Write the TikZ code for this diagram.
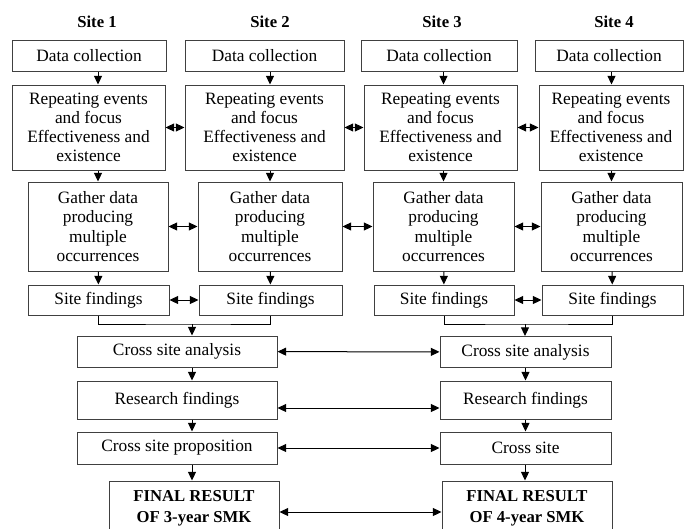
\documentclass[tikz,border=0pt]{standalone}
\usepackage{fontspec}
\setmainfont{Liberation Serif}
\usetikzlibrary{arrows.meta}

\begin{document}
\begin{tikzpicture}[x=0.75pt,y=-0.75pt,->,>={Triangle[length=6.5pt,width=6pt]},line width=0.75pt,
    every node/.style={font=\fontsize{13}{14.4}\selectfont},
    box/.style={draw=black!75,align=center,inner sep=1pt},
    head/.style={font=\fontsize{12.5}{15.5}\selectfont\bfseries}]
  \useasboundingbox (0,0) rectangle (684,528);
  % site headings
  \node[head] (S1) at (97,22) {Site 1};
  \node[head] (S2) at (270,22) {Site 2};
  \node[head] (S3) at (442,22) {Site 3};
  \node[head] (S4) at (614,22) {Site 4};
  % data collection
  \node[box,minimum width=115.5pt,minimum height=22.5pt] (D1) at (89,56) {Data collection};
  \node[box,minimum width=119.25pt,minimum height=22.5pt] (D2) at (264.5,56) {Data collection};
  \node[box,minimum width=117pt,minimum height=22.5pt] (D3) at (439,56) {Data collection};
  \node[box,minimum width=111pt,minimum height=22.5pt] (D4) at (609,56) {Data collection};
  % repeating events
  \node[box,minimum width=114.75pt,minimum height=63.75pt] (R1) at (88.5,127.5) {Repeating events\\ and focus\\ Effectiveness and\\ existence};
  \node[box,minimum width=119.25pt,minimum height=63.75pt] (R2) at (264.5,127.5) {Repeating events\\ and focus\\ Effectiveness and\\ existence};
  \node[box,minimum width=114.75pt,minimum height=63.75pt] (R3) at (440.5,127.5) {Repeating events\\ and focus\\ Effectiveness and\\ existence};
  \node[box,minimum width=108pt,minimum height=63.75pt] (R4) at (611,127.5) {Repeating events\\ and focus\\ Effectiveness and\\ existence};
  % gather data
  \node[box,minimum width=105pt,minimum height=66.75pt] (G1) at (98,226.5) {Gather data\\ producing\\ multiple\\ occurrences};
  \node[box,minimum width=108pt,minimum height=66.75pt] (G2) at (270,226.5) {Gather data\\ producing\\ multiple\\ occurrences};
  \node[box,minimum width=105.75pt,minimum height=66.75pt] (G3) at (443.5,226.5) {Gather data\\ producing\\ multiple\\ occurrences};
  \node[box,minimum width=105.75pt,minimum height=66.75pt] (G4) at (611.5,226.5) {Gather data\\ producing\\ multiple\\ occurrences};
  % site findings
  \node[box,minimum width=105.75pt,minimum height=22.5pt] (F1) at (98.5,300) {Site findings};
  \node[box,minimum width=107.25pt,minimum height=22.5pt] (F2) at (270.5,300) {Site findings};
  \node[box,minimum width=105pt,minimum height=22.5pt] (F3) at (444,300) {Site findings};
  \node[box,minimum width=105.75pt,minimum height=22.5pt] (F4) at (612.5,300) {Site findings};
  \coordinate (J1) at (192,324);
  \coordinate (J2) at (525,324);
  % cross site part
  \node[box,minimum width=150pt,minimum height=23.25pt] (CA1) at (177,351.5) {Cross site analysis};
  \node[box,minimum width=128.25pt,minimum height=23.25pt] (CA2) at (525.5,352) {Cross site analysis};
  \node[box,minimum width=150pt,minimum height=28.5pt] (RF1) at (177,400) {Research findings};
  \node[box,minimum width=128.25pt,minimum height=28.5pt] (RF2) at (525.5,400) {Research findings};
  \node[box,minimum width=150pt,minimum height=24pt] (CP1) at (177,448) {Cross site proposition};
  \node[box,minimum width=128.25pt,minimum height=24pt] (CP2) at (525.5,448) {Cross site};
  \node[box,head,minimum width=127.5pt,minimum height=40.5pt] (FR1) at (194,508) {FINAL RESULT\\ OF 3-year SMK};
  \node[box,head,minimum width=127.5pt,minimum height=40.5pt] (FR2) at (527,508) {FINAL RESULT\\ OF 4-year SMK};

  \draw (D1.south -| G1) -- (R1.north -| G1);
  \draw (D2.south -| G2) -- (R2.north -| G2);
  \draw (D3.south -| G3) -- (R3.north -| G3);
  \draw (D4.south -| G4) -- (R4.north -| G4);
  \draw (R1.south -| G1) -- (G1);
  \draw (R2.south -| G2) -- (G2);
  \draw (R3.south -| G3) -- (G3);
  \draw (R4.south -| G4) -- (G4);
  \draw (G1) -- (F1);
  \draw (G2) -- (F2);
  \draw (G3) -- (F3);
  \draw (G4) -- (F4);
  \draw[<->] (R1) -- (R2);
  \draw[<->] (R2) -- (R3);
  \draw[<->] (R3) -- (R4);
  \draw[<->] (G1) -- (G2);
  \draw[<->] (G2) -- (G3);
  \draw[<->] (G3) -- (G4);
  \draw[<->] (F1) -- (F2);
  \draw[<->] (F3) -- (F4);
  \draw[-] (F1.south) |- (J1) -| (F2.south);
  \draw[-] (F3.south) |- (J2) -| (F4.south);
  \draw (J1) -- (J1 |- CA1.north);
  \draw (J2) -- (J2 |- CA2.north);
  \draw (CA1.south -| J1) -- (RF1.north -| J1);
  \draw (RF1.south -| J1) -- (CP1.north -| J1);
  \draw (CP1.south -| J1) -- (FR1.north -| J1);
  \draw (CA2) -- (RF2);
  \draw (RF2) -- (CP2);
  \draw (CP2.south -| J2) -- (FR2.north -| J2);
  \draw[<->] (CA1) -- (CA2);
  \draw[<->] ([yshift=-6pt]RF1.east) -- ([yshift=-6pt]RF2.west);
  \draw[<->] (CP1) -- (CP2);
  \draw[<->] ([yshift=-3pt]FR1.east) -- ([yshift=-3pt]FR2.west);
\end{tikzpicture}
\end{document}
